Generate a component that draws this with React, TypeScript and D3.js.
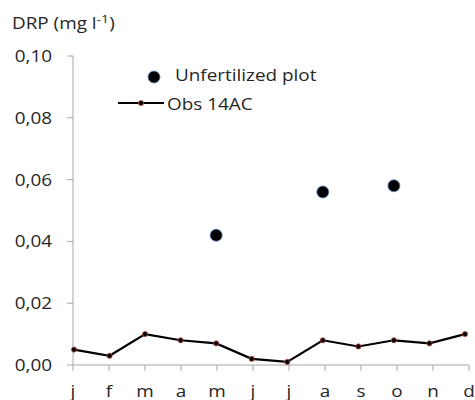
import React from "react";
import * as d3 from "d3";

const months = ["j", "f", "m", "a", "m", "j", "j", "a", "s", "o", "n", "d"];
const obs14AC = [0.005, 0.003, 0.01, 0.008, 0.007, 0.002, 0.001, 0.008, 0.006, 0.008, 0.007, 0.01];
const unfertIdx = [4, 7, 9];
const unfertVals = [0.042, 0.056, 0.058];
const yTicks = [0, 0.02, 0.04, 0.06, 0.08, 0.1];

const W = 475, H = 400;
const FONT = "'Open Sans', sans-serif";
const SX = 1.22;
const FS = 15.5;

function T({ x, y, anchor = "start", children }: { x: number; y: number; anchor?: string; children: React.ReactNode }) {
  return (
    <text transform={`translate(${x},${y}) scale(${SX},1)`} fontSize={FS} textAnchor={anchor} fill="#262626">
      {children}
    </text>
  );
}

export default function App() {
  const y = d3.scaleLinear().domain([0, 0.1]).range([365, 56]);
  const xt = d3.scaleLinear().domain([0, 11]).range([73, 469]);
  const xp = d3.scaleLinear().domain([0, 11]).range([74, 465]);
  const line = d3.line<number>().x((_, i) => xp(i)).y(d => y(d));
  const fmt = (v: number) => v.toFixed(2).replace(".", ",");
  return (
    <svg width={W} height={H} style={{ position: "absolute", left: 0, top: 0, background: "#fff" }} fontFamily={FONT}>
      <T x={12} y={29}>DRP (mg l<tspan dy={-6} fontSize={11.5}>-1</tspan><tspan dy={6}>)</tspan></T>
      <line x1={73} x2={73} y1={56} y2={365} stroke="#a6a6a6" />
      <line x1={73} x2={469} y1={365} y2={365} stroke="#a6a6a6" />
      {yTicks.map(t => (
        <g key={t}>
          <line x1={67} x2={73} y1={y(t)} y2={y(t)} stroke="#a6a6a6" />
          <T x={52} y={y(t) + 6} anchor="end">{fmt(t)}</T>
        </g>
      ))}
      {months.map((m, i) => (
        <g key={i}>
          <line x1={xt(i)} x2={xt(i)} y1={365} y2={371} stroke="#a6a6a6" />
          <T x={xt(i)} y={397} anchor="middle">{m}</T>
        </g>
      ))}
      <path d={line(obs14AC) || ""} fill="none" stroke="#000" strokeWidth={2.2} />
      {obs14AC.map((v, i) => (
        <circle key={i} cx={xp(i)} cy={y(v)} r={2.6} fill="#000" stroke="#c0504d" strokeWidth={0.8} />
      ))}
      {unfertIdx.map((k, j) => (
        <circle key={j} cx={xp(k)} cy={y(unfertVals[j])} r={6} fill="#000" stroke="#4f81bd" strokeWidth={0.8} />
      ))}
      <circle cx={154} cy={77} r={6} fill="#000" stroke="#4f81bd" strokeWidth={0.8} />
      <T x={175} y={81}>Unfertilized plot</T>
      <line x1={118} x2={164} y1={103} y2={103} stroke="#000" strokeWidth={2.2} />
      <circle cx={141} cy={103} r={2.6} fill="#000" stroke="#c0504d" strokeWidth={0.8} />
      <T x={167} y={110}>Obs 14AC</T>
    </svg>
  );
}
